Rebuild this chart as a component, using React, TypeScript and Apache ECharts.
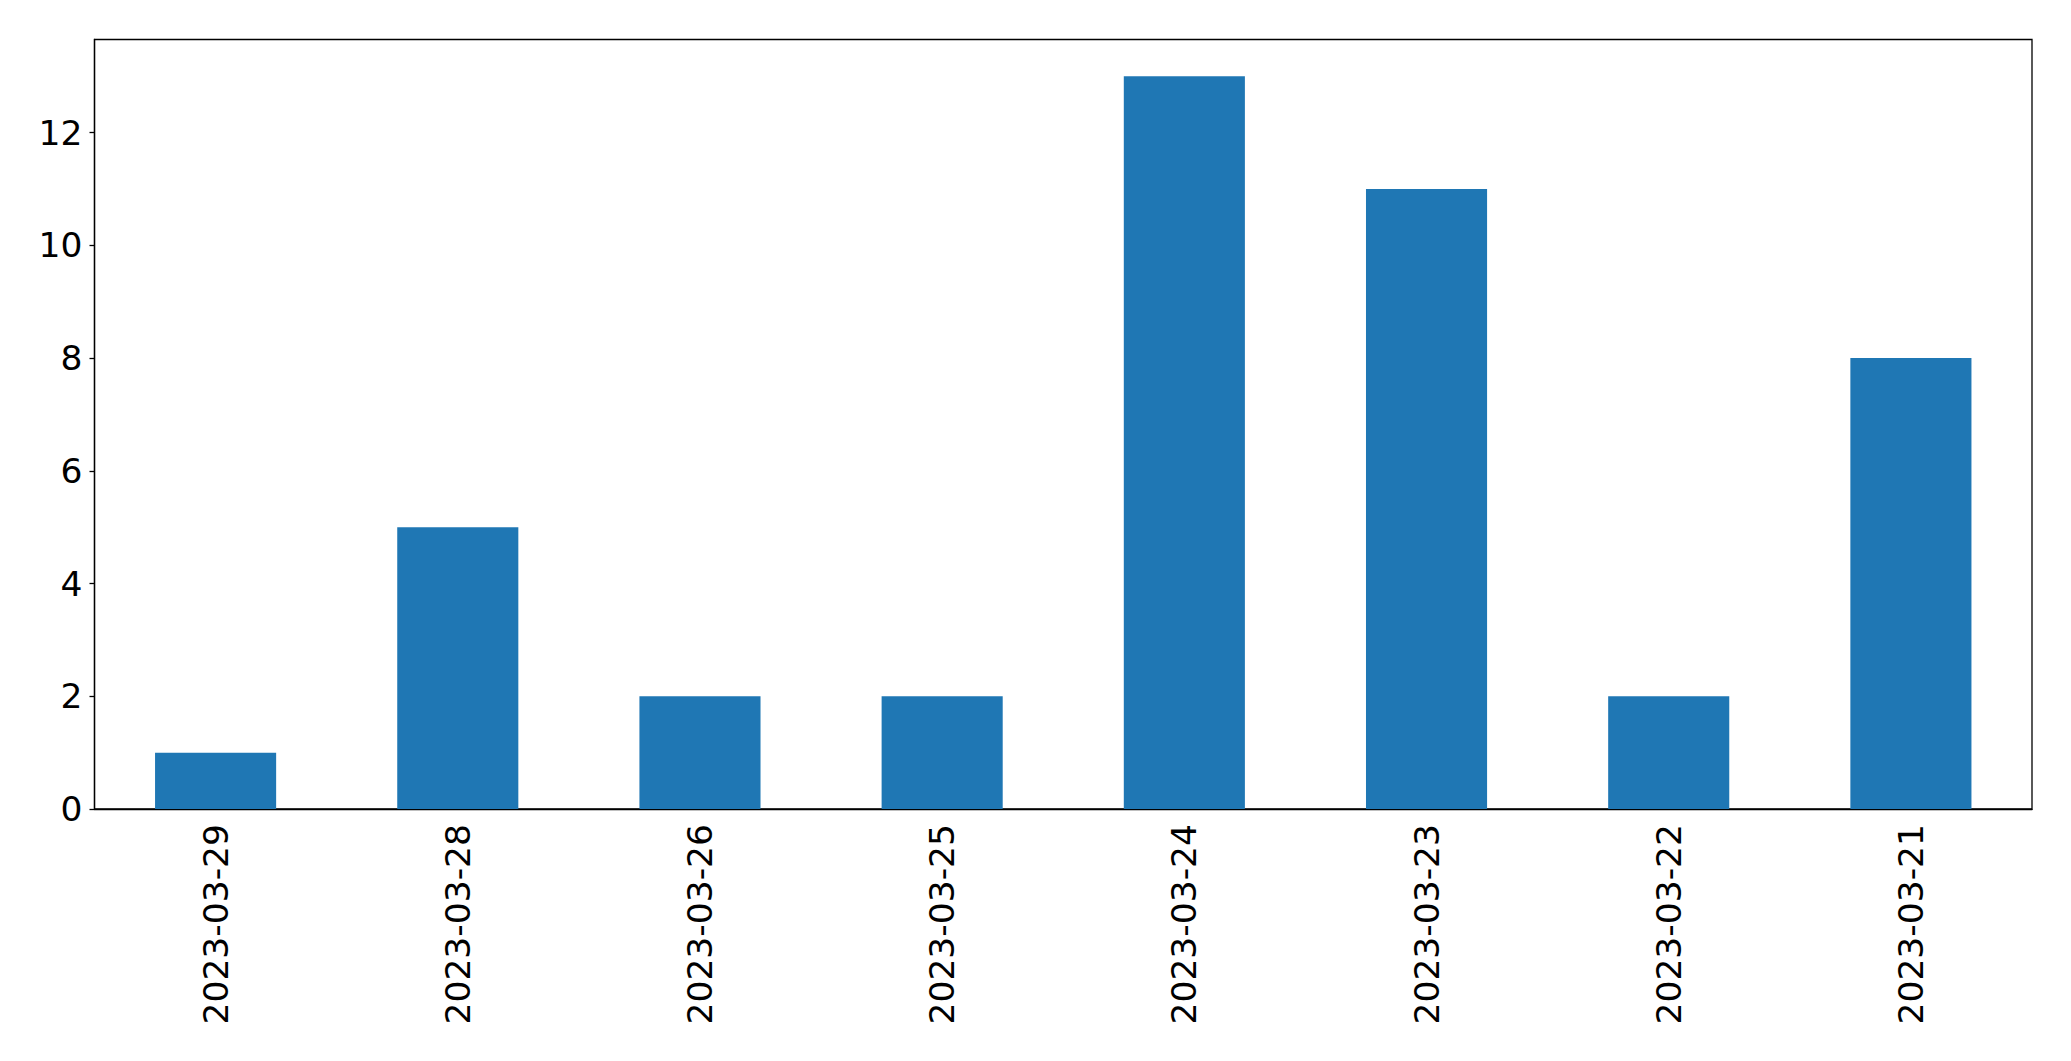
import React, { useEffect, useRef } from "react";
import * as echarts from "echarts";

const categories = ["2023-03-29", "2023-03-28", "2023-03-26", "2023-03-25", "2023-03-24", "2023-03-23", "2023-03-22", "2023-03-21"];
const values = [1, 5, 2, 2, 13, 11, 2, 8];
const yTicks = [0, 2, 4, 6, 8, 10, 12];

export default function App() {
  const ref = useRef<HTMLDivElement>(null);
  useEffect(() => {
    const chart = echarts.init(ref.current!, null, { renderer: "svg" });
    const font = { fontFamily: "DejaVu Sans", fontSize: 34.5, color: "#000" };
    chart.setOption({
      animation: false,
      backgroundColor: "#fff",
      grid: {
        left: 94.5,
        right: 39,
        top: 39.5,
        bottom: 252,
        show: true,
        borderColor: "#000",
        borderWidth: 1.3,
        containLabel: false,
      },
      xAxis: {
        type: "category",
        data: categories,
        boundaryGap: true,
        axisLine: { lineStyle: { color: "#000", width: 1.3 } },
        axisTick: { alignWithLabel: true, length: 5, lineStyle: { color: "#000", width: 1.3 } },
        axisLabel: { ...font, rotate: 90, margin: 15, interval: 0 },
        splitLine: { show: false },
      },
      yAxis: {
        type: "value",
        min: 0,
        max: 13.65,
        interval: 2,
        axisLine: { show: true, lineStyle: { color: "#000", width: 1.3 } },
        axisTick: { show: true, length: 5, customValues: yTicks, lineStyle: { color: "#000", width: 1.3 } },
        axisLabel: { ...font, margin: 12, customValues: yTicks },
        splitLine: { show: false },
      },
      series: [
        {
          type: "bar",
          data: values,
          barWidth: "50%",
          itemStyle: { color: "#1f77b4" },
        },
      ],
    });
    return () => chart.dispose();
  }, []);
  return (
    <div
      ref={ref}
      style={{ position: "fixed", left: 0, top: 0, width: 2071, height: 1061, background: "#fff" }}
    />
  );
}
